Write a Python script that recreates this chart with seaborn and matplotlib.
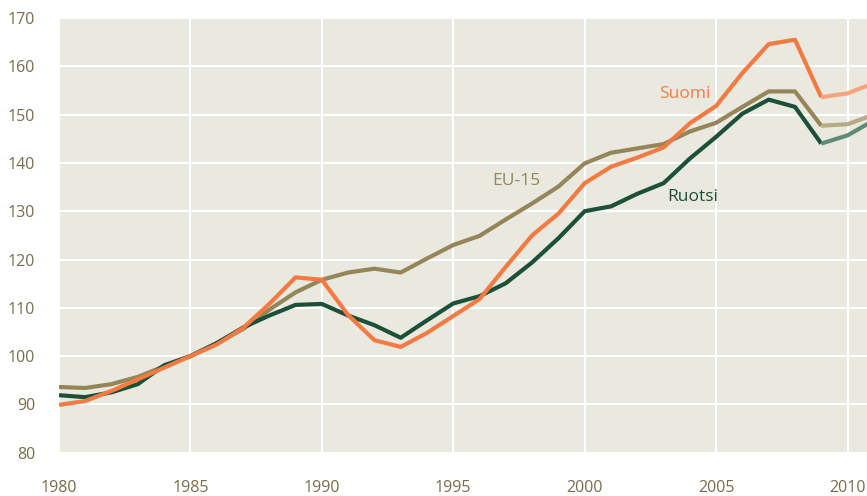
import matplotlib
matplotlib.use("Agg")
import matplotlib.pyplot as plt
import seaborn as sns
import pandas as pd

years = list(range(1980, 2012))
suomi = [89.9, 90.7, 92.8, 95.2, 97.6, 100.0, 102.4, 105.8, 110.8, 116.3,
         115.8, 108.5, 103.3, 101.9, 104.8, 108.3, 111.8, 118.5, 125.0, 129.5,
         135.8, 139.2, 141.1, 143.2, 148.2, 151.8, 158.6, 164.6, 165.5, 153.6,
         154.4, 156.5]
eu15 = [93.6, 93.4, 94.2, 95.7, 97.9, 100.0, 102.6, 105.6, 109.6, 113.2,
        115.8, 117.3, 118.1, 117.3, 120.2, 123.0, 124.9, 128.3, 131.6, 135.1,
        139.9, 142.1, 143.0, 143.9, 146.5, 148.3, 151.6, 154.8, 154.8, 147.7,
        148.0, 150.0]
ruotsi = [91.9, 91.5, 92.5, 94.2, 98.1, 100.0, 102.7, 105.9, 108.4, 110.6,
          110.8, 108.4, 106.4, 103.8, 107.4, 110.9, 112.4, 115.1, 119.4, 124.4,
          130.0, 131.0, 133.6, 135.8, 140.9, 145.4, 150.2, 153.1, 151.6, 144.0,
          145.7, 148.8]
forecast_from = 2009

series_names = ["EU-15", "Ruotsi", "Suomi"]
series_values = {"Suomi": suomi, "EU-15": eu15, "Ruotsi": ruotsi}
colors = {"Suomi": "#f47a42", "EU-15": "#958659", "Ruotsi": "#1d5038"}
light_colors = {"Suomi": "#f9a27e", "EU-15": "#b6aa88", "Ruotsi": "#5f8b77"}

y_ticks = list(range(80, 171, 10))
x_ticks = [1980, 1985, 1990, 1995, 2000, 2005, 2010]

rows = []
for name in series_names:
    for yr, v in zip(years, series_values[name]):
        rows.append({"year": yr, "value": v, "series": name})
df = pd.DataFrame(rows)

sns.set_theme(style="darkgrid", rc={
    "axes.facecolor": "#eae9df",
    "grid.color": "white",
    "grid.linewidth": 1.5,
})
plt.rcParams["font.family"] = ["Open Sans", "DejaVu Sans"]

fig = plt.figure(figsize=(8.67, 4.96), dpi=100)
ax = fig.add_axes([59 / 867, 1 - 452.7 / 496, 1 - 59 / 867, (452.7 - 18) / 496])

hist = df[df["year"] <= forecast_from]
fc = df[df["year"] >= forecast_from]
sns.lineplot(data=hist, x="year", y="value", hue="series", palette=colors,
             hue_order=series_names, linewidth=3.0, legend=False, ax=ax,
             solid_capstyle="butt")
sns.lineplot(data=fc, x="year", y="value", hue="series", palette=light_colors,
             hue_order=series_names, linewidth=3.0, legend=False, ax=ax,
             solid_capstyle="butt")

ax.set_xlim(1980, 2010.74)
ax.set_ylim(80, 170)
ax.set_xticks(x_ticks)
ax.set_yticks(y_ticks)
ax.set_xlabel("")
ax.set_ylabel("")
for s in ax.spines.values():
    s.set_visible(False)
tick_color = "#7a6c4d"
ax.tick_params(axis="x", length=0, pad=20, labelsize=11.5, colors=tick_color)
ax.tick_params(axis="y", length=0, pad=17, labelsize=11.5, colors=tick_color)

ax.text(2003.8, 154.3, "Suomi", color=colors["Suomi"], fontsize=12.5,
        ha="center", va="center")
ax.text(2004.1, 132.9, "Ruotsi", color=colors["Ruotsi"], fontsize=12.5,
        ha="center", va="center")
ax.text(1997.4, 136.3, "EU-15", color=colors["EU-15"], fontsize=12.5,
        ha="center", va="center")

fig.savefig("out.png", dpi=100)
